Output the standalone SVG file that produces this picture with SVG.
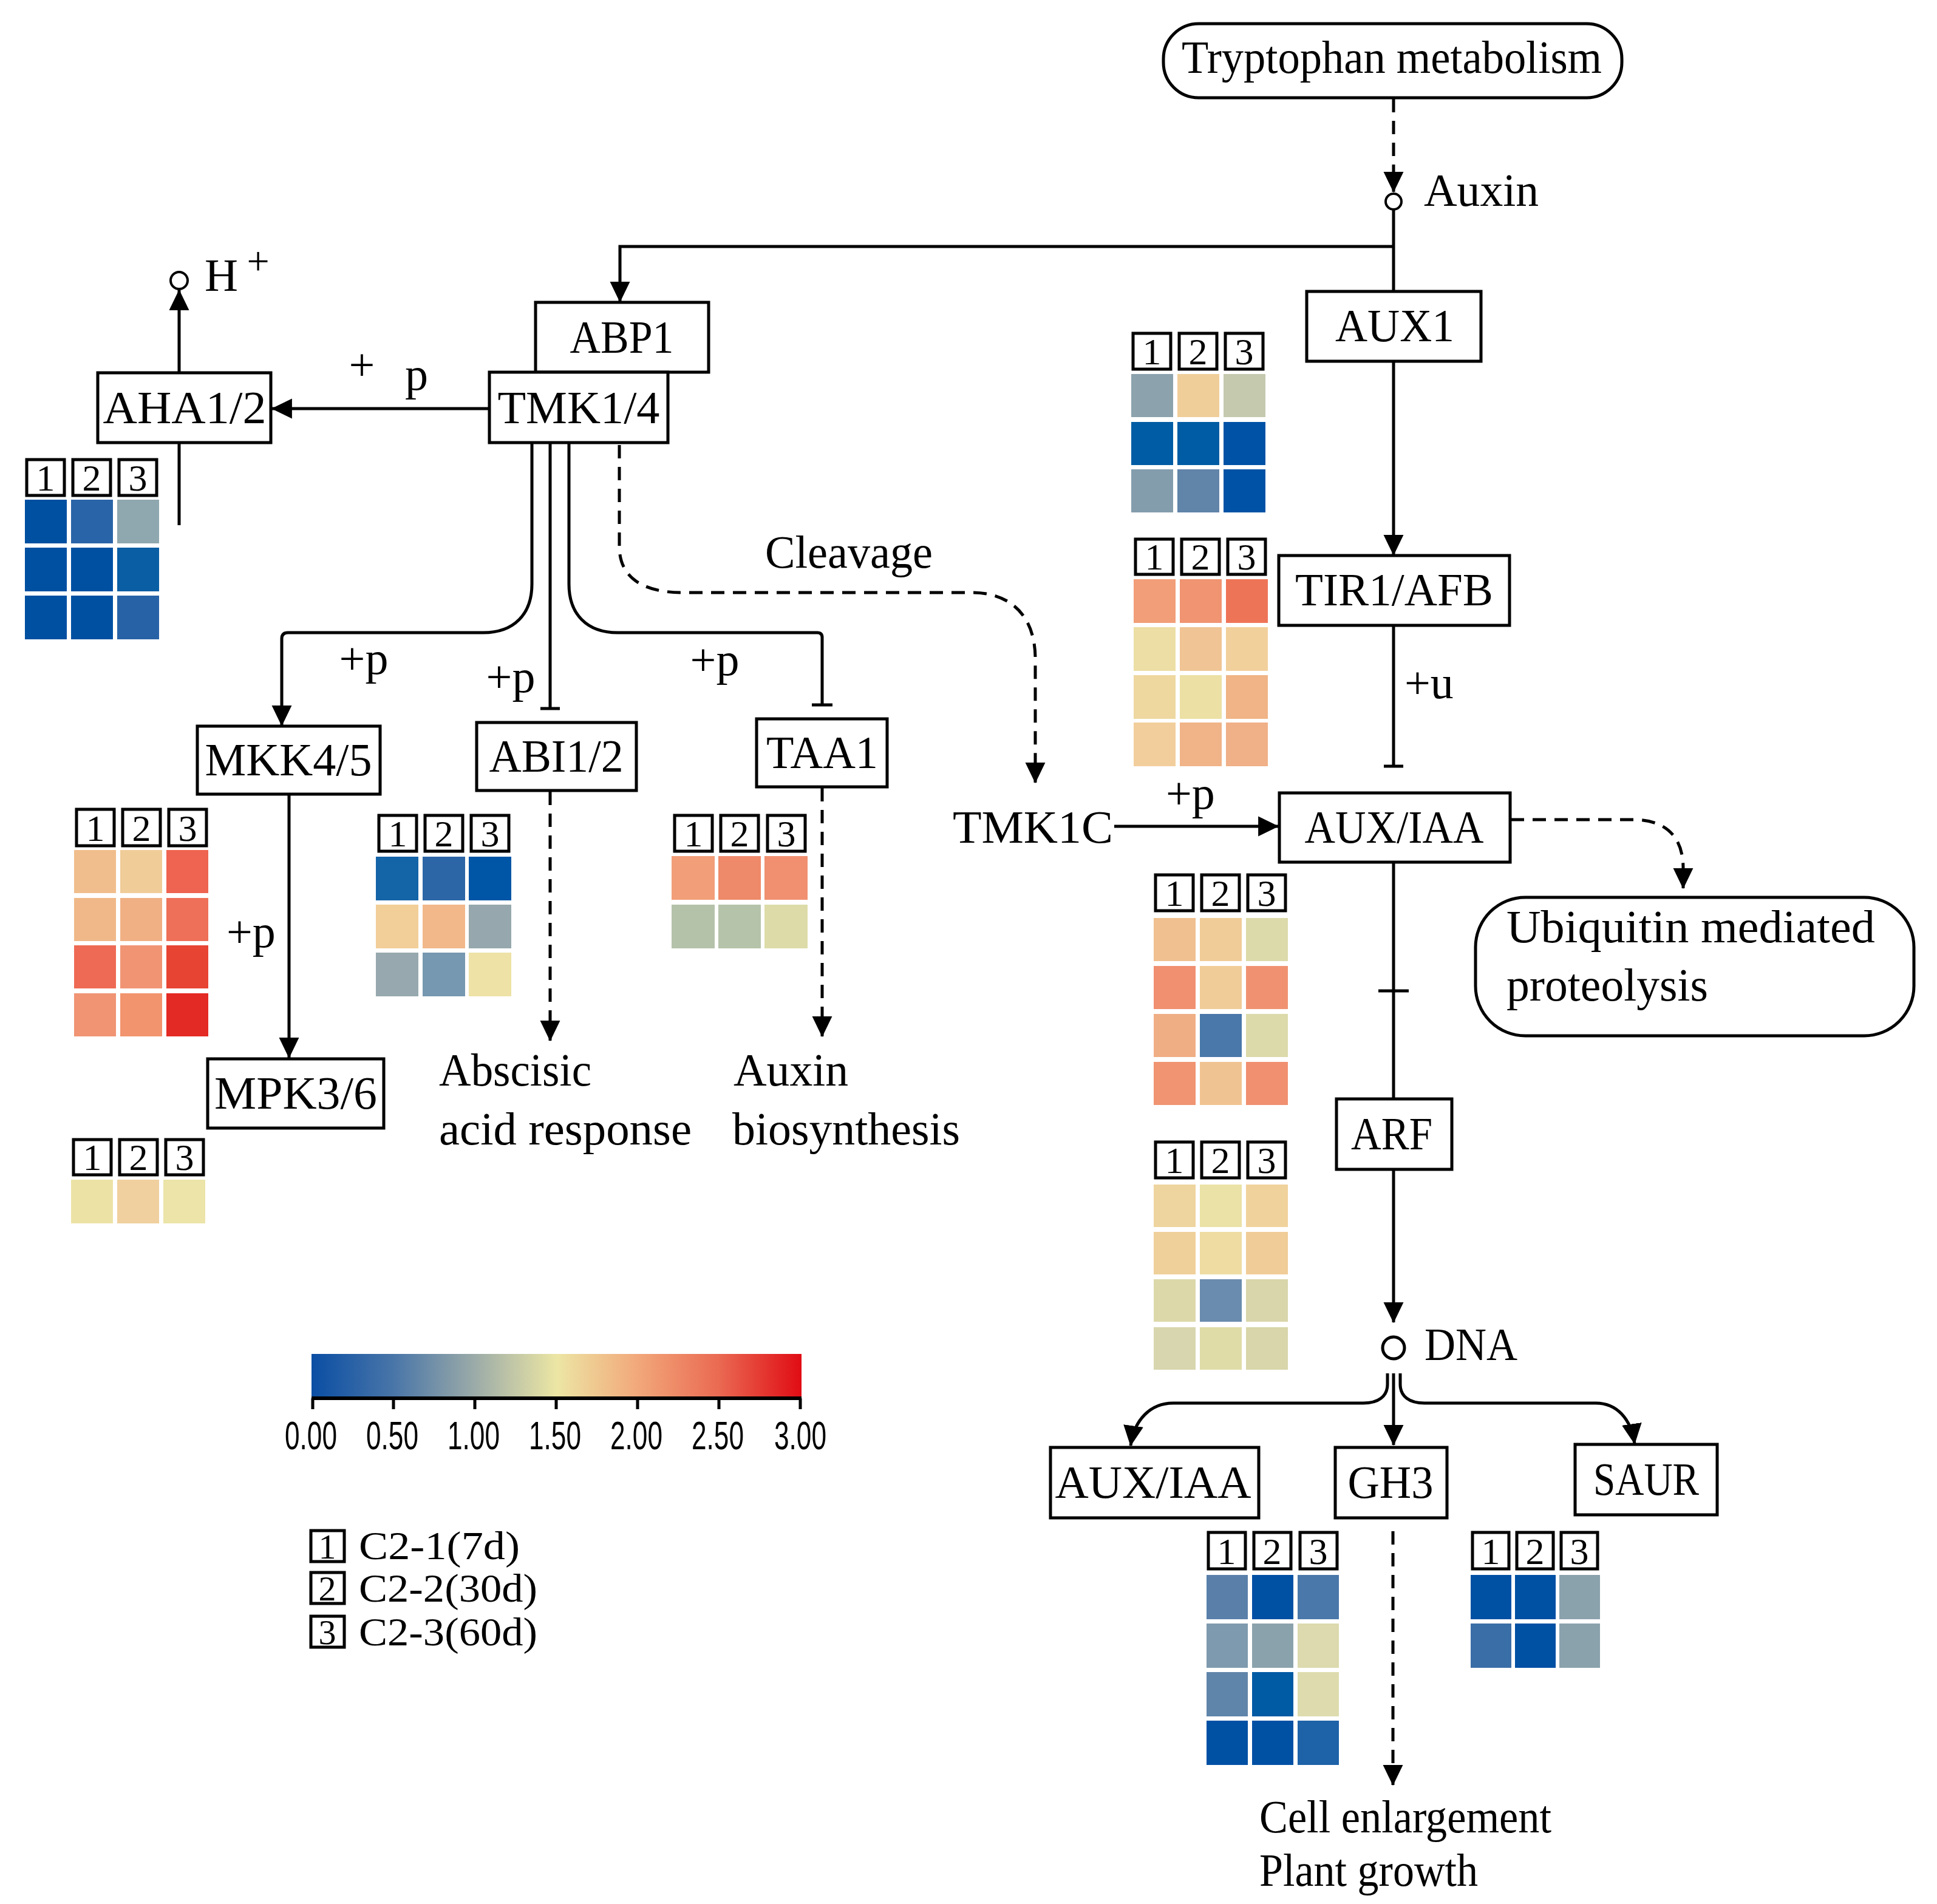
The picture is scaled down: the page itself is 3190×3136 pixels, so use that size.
<svg xmlns="http://www.w3.org/2000/svg" width="3190" height="3136" viewBox="0 0 3190 3136">
<defs>
<style>
.box{fill:#fff;stroke:#000;stroke-width:5}
.lbl{font-family:"Liberation Serif",serif;font-size:76px;fill:#000}
.c{text-anchor:middle}
.ln{fill:none;stroke:#000;stroke-width:5}
.dash{stroke-dasharray:22 14}
.hd{fill:#fff;stroke:#000;stroke-width:5}
.hdt{font-family:"Liberation Serif",serif;font-size:62px;text-anchor:middle;fill:#000}
.tick{font-family:"Liberation Sans Narrow","Liberation Sans",sans-serif;font-size:64px;text-anchor:middle;fill:#000}
</style>
<marker id="arr" markerUnits="userSpaceOnUse" markerWidth="34" markerHeight="34" viewBox="0 0 31 30" refX="30" refY="15" orient="auto">
<path d="M0,0 L31,15 L0,30 z" fill="#000"/>
</marker>
<linearGradient id="cbar" x1="0" y1="0" x2="1" y2="0">
<stop offset="0" stop-color="#0a4ea4"/>
<stop offset="0.17" stop-color="#4a76a8"/>
<stop offset="0.33" stop-color="#9aaaa8"/>
<stop offset="0.5" stop-color="#ece6a4"/>
<stop offset="0.66" stop-color="#f2aa7c"/>
<stop offset="0.83" stop-color="#ea6a52"/>
<stop offset="1" stop-color="#e00c14"/>
</linearGradient>
</defs>
<rect width="3190" height="3136" fill="#fff"/>

<!-- connectors -->
<g id="connectors">
<path class="ln dash" d="M2295,163 V316" marker-end="url(#arr)"/>
<path class="ln" d="M2295,345 V480"/>
<path class="ln" d="M2295,406 H1021 V497" marker-end="url(#arr)"/>
<path class="ln" d="M806,673 H448" marker-end="url(#arr)"/>
<path class="ln" d="M295,614 V478" marker-end="url(#arr)"/>
<path class="ln" d="M295,729 V865"/>
<path class="ln" d="M876,729 V962 C876,1012 846,1042 796,1042 H474 Q464,1042 464,1052 V1195" marker-end="url(#arr)"/>
<path class="ln" d="M906,729 V1167 M890,1167 H922"/>
<path class="ln" d="M937,729 V962 C937,1012 967,1042 1017,1042 H1346 Q1354,1042 1354,1050 V1161 M1337,1161 H1371"/>
<path class="ln dash" d="M1020,733 V900 C1020,952 1060,976 1124,976 H1600 C1670,976 1705,1020 1705,1085 V1289" marker-end="url(#arr)"/>
<path class="ln" d="M476,1309 V1742" marker-end="url(#arr)"/>
<path class="ln dash" d="M906,1304 V1714" marker-end="url(#arr)"/>
<path class="ln dash" d="M1354,1298 V1707" marker-end="url(#arr)"/>
<path class="ln" d="M2295,595 V914" marker-end="url(#arr)"/>
<path class="ln" d="M2295,1030 V1262 M2279,1262 H2311"/>
<path class="ln" d="M1835,1361 H2105" marker-end="url(#arr)"/>
<path class="ln" d="M2295,1421 V1810 M2270,1632 H2320"/>
<path class="ln dash" d="M2488,1350 H2690 C2745,1350 2772,1380 2772,1430 V1463" marker-end="url(#arr)"/>
<path class="ln" d="M2295,1926 V2178" marker-end="url(#arr)"/>
<path class="ln" d="M2285,2262 V2280 C2285,2300 2270,2311 2245,2311 H1932 C1895,2311 1868,2338 1862,2381" marker-end="url(#arr)"/>
<path class="ln" d="M2295,2262 V2380" marker-end="url(#arr)"/>
<path class="ln" d="M2306,2262 V2280 C2306,2300 2321,2311 2346,2311 H2628 C2662,2311 2686,2336 2692,2378" marker-end="url(#arr)"/>
<path class="ln dash" d="M2294,2522 V2940" marker-end="url(#arr)"/>
</g>

<!-- nodes -->
<g id="tryptophan">
<rect x="1916" y="39" width="755" height="122" rx="58" ry="58" class="box"/>
<text class="lbl" x="1946" y="120" textLength="692" lengthAdjust="spacingAndGlyphs">Tryptophan metabolism</text>
</g>
<g id="auxin">
<circle cx="2295" cy="332" r="13" fill="#fff" stroke="#000" stroke-width="4"/>
<text class="lbl" x="2345" y="339" textLength="189" lengthAdjust="spacingAndGlyphs">Auxin</text>
</g>
<g id="hplus">
<circle cx="295" cy="462" r="14" fill="#fff" stroke="#000" stroke-width="4"/>
<text class="lbl" x="337" y="479" textLength="55" lengthAdjust="spacingAndGlyphs">H</text>
<text class="lbl c" x="425" y="452" style="font-size:66px">+</text>
</g>
<g id="abp1">
<rect x="882" y="498" width="285" height="115" class="box"/>
<text class="lbl c" x="1024" y="581" textLength="171" lengthAdjust="spacingAndGlyphs">ABP1</text>
</g>
<g id="tmk14">
<rect x="806" y="613" width="294" height="116" class="box"/>
<text class="lbl c" x="953" y="697" textLength="267" lengthAdjust="spacingAndGlyphs">TMK1/4</text>
</g>
<g id="aha12">
<rect x="161" y="614" width="285" height="115" class="box"/>
<text class="lbl c" x="304" y="697" textLength="269" lengthAdjust="spacingAndGlyphs">AHA1/2</text>
</g>
<g id="labels-p">
<text class="lbl c" x="596" y="626">+</text>
<text class="lbl c" x="686" y="642">p</text>
<text class="lbl c" x="599" y="1110">+p</text>
<text class="lbl c" x="841" y="1140">+p</text>
<text class="lbl c" x="1177" y="1112">+p</text>
<text class="lbl" x="373" y="1560">+p</text>
<text class="lbl" x="1920" y="1332">+p</text>
<text class="lbl" x="2313" y="1150">+u</text>
<text class="lbl" x="1260" y="935" textLength="276" lengthAdjust="spacingAndGlyphs">Cleavage</text>
</g>
<g id="mkk45">
<rect x="325" y="1196" width="301" height="112" class="box"/>
<text class="lbl c" x="475" y="1277" textLength="275" lengthAdjust="spacingAndGlyphs">MKK4/5</text>
</g>
<g id="abi12">
<rect x="785" y="1190" width="263" height="112" class="box"/>
<text class="lbl c" x="916" y="1271" textLength="221" lengthAdjust="spacingAndGlyphs">ABI1/2</text>
</g>
<g id="taa1">
<rect x="1246" y="1184" width="215" height="112" class="box"/>
<text class="lbl c" x="1354" y="1265" textLength="184" lengthAdjust="spacingAndGlyphs">TAA1</text>
</g>
<g id="mpk36">
<rect x="342" y="1744" width="290" height="114" class="box"/>
<text class="lbl c" x="487" y="1826" textLength="268" lengthAdjust="spacingAndGlyphs">MPK3/6</text>
</g>
<g id="aba-response">
<text class="lbl" x="723" y="1788" textLength="251" lengthAdjust="spacingAndGlyphs">Abscisic</text>
<text class="lbl" x="723" y="1885" textLength="416" lengthAdjust="spacingAndGlyphs">acid response</text>
</g>
<g id="auxin-biosynthesis">
<text class="lbl" x="1208" y="1788" textLength="189" lengthAdjust="spacingAndGlyphs">Auxin</text>
<text class="lbl" x="1206" y="1885" textLength="375" lengthAdjust="spacingAndGlyphs">biosynthesis</text>
</g>
<g id="tmk1c">
<text class="lbl" x="1569" y="1388" textLength="264" lengthAdjust="spacingAndGlyphs">TMK1C</text>
</g>
<g id="aux1">
<rect x="2152" y="480" width="287" height="115" class="box"/>
<text class="lbl c" x="2297" y="562" textLength="196" lengthAdjust="spacingAndGlyphs">AUX1</text>
</g>
<g id="tir1afb">
<rect x="2106" y="915" width="380" height="115" class="box"/>
<text class="lbl c" x="2296" y="997" textLength="326" lengthAdjust="spacingAndGlyphs">TIR1/AFB</text>
</g>
<g id="auxiaa-mid">
<rect x="2107" y="1306" width="380" height="114" class="box"/>
<text class="lbl c" x="2296" y="1388" textLength="295" lengthAdjust="spacingAndGlyphs">AUX/IAA</text>
</g>
<g id="ubiquitin">
<rect x="2430" y="1478" width="722" height="228" rx="82" ry="82" class="box"/>
<text class="lbl" x="2481" y="1552" textLength="607" lengthAdjust="spacingAndGlyphs">Ubiquitin mediated</text>
<text class="lbl" x="2481" y="1648" textLength="332" lengthAdjust="spacingAndGlyphs">proteolysis</text>
</g>
<g id="arf">
<rect x="2201" y="1810" width="190" height="116" class="box"/>
<text class="lbl c" x="2292" y="1893" textLength="134" lengthAdjust="spacingAndGlyphs">ARF</text>
</g>
<g id="dna">
<circle cx="2295" cy="2220" r="18" fill="#fff" stroke="#000" stroke-width="5"/>
<text class="lbl" x="2346" y="2240" textLength="153" lengthAdjust="spacingAndGlyphs">DNA</text>
</g>
<g id="auxiaa-bottom">
<rect x="1730" y="2384" width="343" height="116" class="box"/>
<text class="lbl c" x="1899" y="2467" textLength="323" lengthAdjust="spacingAndGlyphs">AUX/IAA</text>
</g>
<g id="gh3">
<rect x="2199" y="2384" width="184" height="116" class="box"/>
<text class="lbl c" x="2290" y="2467" textLength="141" lengthAdjust="spacingAndGlyphs">GH3</text>
</g>
<g id="saur">
<rect x="2594" y="2379" width="234" height="116" class="box"/>
<text class="lbl c" x="2711" y="2462" textLength="174" lengthAdjust="spacingAndGlyphs">SAUR</text>
</g>
<g id="cell-growth">
<text class="lbl" x="2074" y="3018" textLength="481" lengthAdjust="spacingAndGlyphs">Cell enlargement</text>
<text class="lbl" x="2074" y="3106" textLength="360" lengthAdjust="spacingAndGlyphs">Plant growth</text>
</g>

<!-- heatmaps -->
<g id="hm-aha">
<rect class="hd" x="44" y="757" width="62" height="59"/><rect class="hd" x="120" y="757" width="62" height="59"/><rect class="hd" x="196" y="757" width="62" height="59"/>
<text class="hdt" x="75" y="808">1</text><text class="hdt" x="151" y="808">2</text><text class="hdt" x="227" y="808">3</text>
<rect x="41" y="823" width="69" height="72" fill="#0050A2"/><rect x="117" y="823" width="69" height="72" fill="#2A64A8"/><rect x="193" y="823" width="69" height="72" fill="#8FA7AF"/>
<rect x="41" y="902" width="69" height="72" fill="#0050A2"/><rect x="117" y="902" width="69" height="72" fill="#0050A2"/><rect x="193" y="902" width="69" height="72" fill="#0A5EA4"/>
<rect x="41" y="981" width="69" height="72" fill="#0050A2"/><rect x="117" y="981" width="69" height="72" fill="#0050A2"/><rect x="193" y="981" width="69" height="72" fill="#2862A6"/>
</g>
<g id="hm-aux1">
<rect class="hd" x="1866" y="549" width="62" height="59"/><rect class="hd" x="1942" y="549" width="62" height="59"/><rect class="hd" x="2018" y="549" width="62" height="59"/>
<text class="hdt" x="1897" y="600">1</text><text class="hdt" x="1973" y="600">2</text><text class="hdt" x="2049" y="600">3</text>
<rect x="1863" y="616" width="69" height="71" fill="#8CA3AD"/><rect x="1939" y="616" width="69" height="71" fill="#F0CE9A"/><rect x="2015" y="616" width="69" height="71" fill="#C5C9AE"/>
<rect x="1863" y="695" width="69" height="71" fill="#005CA4"/><rect x="1939" y="695" width="69" height="71" fill="#005CA4"/><rect x="2015" y="695" width="69" height="71" fill="#0052A6"/>
<rect x="1863" y="773" width="69" height="71" fill="#839DAD"/><rect x="1939" y="773" width="69" height="71" fill="#6184A9"/><rect x="2015" y="773" width="69" height="71" fill="#0052A6"/>
</g>
<g id="hm-tir1">
<rect class="hd" x="1870" y="888" width="62" height="58"/><rect class="hd" x="1946" y="888" width="62" height="58"/><rect class="hd" x="2022" y="888" width="62" height="58"/>
<text class="hdt" x="1901" y="938">1</text><text class="hdt" x="1977" y="938">2</text><text class="hdt" x="2053" y="938">3</text>
<rect x="1867" y="954" width="69" height="72" fill="#F29E78"/><rect x="1943" y="954" width="69" height="72" fill="#F09472"/><rect x="2019" y="954" width="69" height="72" fill="#EE7458"/>
<rect x="1867" y="1033" width="69" height="72" fill="#ECDEA4"/><rect x="1943" y="1033" width="69" height="72" fill="#F0C494"/><rect x="2019" y="1033" width="69" height="72" fill="#F2D09C"/>
<rect x="1867" y="1112" width="69" height="72" fill="#EED8A0"/><rect x="1943" y="1112" width="69" height="72" fill="#ECE0A4"/><rect x="2019" y="1112" width="69" height="72" fill="#F0B486"/>
<rect x="1867" y="1190" width="69" height="72" fill="#F2CE9C"/><rect x="1943" y="1190" width="69" height="72" fill="#F0B488"/><rect x="2019" y="1190" width="69" height="72" fill="#F0B088"/>
</g>
<g id="hm-mkk">
<rect class="hd" x="126" y="1333" width="62" height="60"/><rect class="hd" x="202" y="1333" width="62" height="60"/><rect class="hd" x="278" y="1333" width="62" height="60"/>
<text class="hdt" x="157" y="1385">1</text><text class="hdt" x="233" y="1385">2</text><text class="hdt" x="309" y="1385">3</text>
<rect x="122" y="1400" width="69" height="71" fill="#F0BE8C"/><rect x="198" y="1400" width="69" height="71" fill="#F0CC98"/><rect x="274" y="1400" width="69" height="71" fill="#EE6450"/>
<rect x="122" y="1479" width="69" height="71" fill="#F0B888"/><rect x="198" y="1479" width="69" height="71" fill="#F0B084"/><rect x="274" y="1479" width="69" height="71" fill="#EE7058"/>
<rect x="122" y="1557" width="69" height="71" fill="#EE6A54"/><rect x="198" y="1557" width="69" height="71" fill="#F09474"/><rect x="274" y="1557" width="69" height="71" fill="#E84434"/>
<rect x="122" y="1636" width="69" height="71" fill="#F09474"/><rect x="198" y="1636" width="69" height="71" fill="#F2946E"/><rect x="274" y="1636" width="69" height="71" fill="#E42A24"/>
</g>
<g id="hm-mpk">
<rect class="hd" x="121" y="1877" width="62" height="58"/><rect class="hd" x="197" y="1877" width="62" height="58"/><rect class="hd" x="273" y="1877" width="62" height="58"/>
<text class="hdt" x="152" y="1927">1</text><text class="hdt" x="228" y="1927">2</text><text class="hdt" x="304" y="1927">3</text>
<rect x="117" y="1943" width="69" height="72" fill="#ECE2A6"/><rect x="193" y="1943" width="69" height="72" fill="#F0D09E"/><rect x="269" y="1943" width="69" height="72" fill="#ECE4A8"/>
</g>
<g id="hm-abi">
<rect class="hd" x="624" y="1343" width="62" height="59"/><rect class="hd" x="700" y="1343" width="62" height="59"/><rect class="hd" x="776" y="1343" width="62" height="59"/>
<text class="hdt" x="655" y="1394">1</text><text class="hdt" x="731" y="1394">2</text><text class="hdt" x="807" y="1394">3</text>
<rect x="619" y="1411" width="70" height="72" fill="#1464A8"/><rect x="696" y="1411" width="70" height="72" fill="#2C66A6"/><rect x="772" y="1411" width="70" height="72" fill="#0056A6"/>
<rect x="619" y="1490" width="70" height="72" fill="#F2CE98"/><rect x="696" y="1490" width="70" height="72" fill="#F2B88A"/><rect x="772" y="1490" width="70" height="72" fill="#96A8AE"/>
<rect x="619" y="1569" width="70" height="72" fill="#97A9AE"/><rect x="696" y="1569" width="70" height="72" fill="#7698B0"/><rect x="772" y="1569" width="70" height="72" fill="#EEE2A6"/>
</g>
<g id="hm-taa1">
<rect class="hd" x="1111" y="1343" width="62" height="59"/><rect class="hd" x="1187" y="1343" width="62" height="59"/><rect class="hd" x="1264" y="1343" width="62" height="59"/>
<text class="hdt" x="1142" y="1394">1</text><text class="hdt" x="1218" y="1394">2</text><text class="hdt" x="1295" y="1394">3</text>
<rect x="1106" y="1410" width="71" height="72" fill="#F29E78"/><rect x="1183" y="1410" width="70" height="72" fill="#EE8A6A"/><rect x="1259" y="1410" width="71" height="72" fill="#F09070"/>
<rect x="1106" y="1490" width="71" height="72" fill="#B5C2AA"/><rect x="1183" y="1490" width="70" height="72" fill="#B5C3AA"/><rect x="1259" y="1490" width="71" height="72" fill="#DDDCA8"/>
</g>
<g id="hm-auxiaa-mid">
<rect class="hd" x="1903" y="1441" width="62" height="59"/><rect class="hd" x="1979" y="1441" width="62" height="59"/><rect class="hd" x="2055" y="1441" width="62" height="59"/>
<text class="hdt" x="1934" y="1492">1</text><text class="hdt" x="2010" y="1492">2</text><text class="hdt" x="2086" y="1492">3</text>
<rect x="1900" y="1512" width="69" height="71" fill="#F0C090"/><rect x="1976" y="1512" width="69" height="71" fill="#F0CC98"/><rect x="2052" y="1512" width="69" height="71" fill="#DCDAAA"/>
<rect x="1900" y="1591" width="69" height="71" fill="#F09070"/><rect x="1976" y="1591" width="69" height="71" fill="#F0CC98"/><rect x="2052" y="1591" width="69" height="71" fill="#F09272"/>
<rect x="1900" y="1670" width="69" height="71" fill="#F0AE84"/><rect x="1976" y="1670" width="69" height="71" fill="#4A78AA"/><rect x="2052" y="1670" width="69" height="71" fill="#DCDAAA"/>
<rect x="1900" y="1749" width="69" height="71" fill="#F09472"/><rect x="1976" y="1749" width="69" height="71" fill="#F0C492"/><rect x="2052" y="1749" width="69" height="71" fill="#F09070"/>
</g>
<g id="hm-arf">
<rect class="hd" x="1903" y="1881" width="62" height="59"/><rect class="hd" x="1979" y="1881" width="62" height="59"/><rect class="hd" x="2055" y="1881" width="62" height="59"/>
<text class="hdt" x="1934" y="1932">1</text><text class="hdt" x="2010" y="1932">2</text><text class="hdt" x="2086" y="1932">3</text>
<rect x="1900" y="1951" width="69" height="70" fill="#EED49E"/><rect x="1976" y="1951" width="69" height="70" fill="#EAE2A6"/><rect x="2052" y="1951" width="69" height="70" fill="#F0D29C"/>
<rect x="1900" y="2029" width="69" height="70" fill="#F0D09A"/><rect x="1976" y="2029" width="69" height="70" fill="#EEDCA2"/><rect x="2052" y="2029" width="69" height="70" fill="#F0CC98"/>
<rect x="1900" y="2107" width="69" height="70" fill="#DCD8AA"/><rect x="1976" y="2107" width="69" height="70" fill="#6A8CAE"/><rect x="2052" y="2107" width="69" height="70" fill="#D8D6AA"/>
<rect x="1900" y="2186" width="69" height="70" fill="#D8D6AE"/><rect x="1976" y="2186" width="69" height="70" fill="#E0DCA8"/><rect x="2052" y="2186" width="69" height="70" fill="#D8D6AA"/>
</g>
<g id="hm-gh3">
<rect class="hd" x="1990" y="2524" width="61" height="60"/><rect class="hd" x="2065" y="2524" width="61" height="60"/><rect class="hd" x="2141" y="2524" width="61" height="60"/>
<text class="hdt" x="2020" y="2576">1</text><text class="hdt" x="2095" y="2576">2</text><text class="hdt" x="2171" y="2576">3</text>
<rect x="1987" y="2594" width="68" height="73" fill="#5A80AA"/><rect x="2062" y="2594" width="68" height="73" fill="#0050A4"/><rect x="2137" y="2594" width="68" height="73" fill="#4A78AA"/>
<rect x="1987" y="2674" width="68" height="73" fill="#7E9AAE"/><rect x="2062" y="2674" width="68" height="73" fill="#8AA2AC"/><rect x="2137" y="2674" width="68" height="73" fill="#DCDAAE"/>
<rect x="1987" y="2754" width="68" height="73" fill="#6085AA"/><rect x="2062" y="2754" width="68" height="73" fill="#005AA4"/><rect x="2137" y="2754" width="68" height="73" fill="#DEDCAE"/>
<rect x="1987" y="2834" width="68" height="73" fill="#0050A4"/><rect x="2062" y="2834" width="68" height="73" fill="#0050A4"/><rect x="2137" y="2834" width="68" height="73" fill="#1E62A8"/>
</g>
<g id="hm-saur">
<rect class="hd" x="2425" y="2524" width="60" height="60"/><rect class="hd" x="2498" y="2524" width="60" height="60"/><rect class="hd" x="2571" y="2524" width="60" height="60"/>
<text class="hdt" x="2455" y="2576">1</text><text class="hdt" x="2528" y="2576">2</text><text class="hdt" x="2601" y="2576">3</text>
<rect x="2422" y="2594" width="67" height="73" fill="#0050A4"/><rect x="2495" y="2594" width="67" height="73" fill="#0050A4"/><rect x="2568" y="2594" width="67" height="73" fill="#8AA2AC"/>
<rect x="2422" y="2674" width="67" height="73" fill="#3A6EA6"/><rect x="2495" y="2674" width="67" height="73" fill="#0050A4"/><rect x="2568" y="2674" width="67" height="73" fill="#8AA2AC"/>
</g>

<!-- legend -->
<g id="colorbar">
<rect x="513" y="2230" width="807" height="73" fill="url(#cbar)"/>
<path class="ln" style="stroke-width:6" d="M513,2303 H1320"/>
<path class="ln" d="M515,2303 V2321 M648,2303 V2321 M782,2303 V2321 M916,2303 V2321 M1050,2303 V2321 M1184,2303 V2321 M1318,2303 V2321"/>
<text class="tick" x="512" y="2387" textLength="86" lengthAdjust="spacingAndGlyphs">0.00</text>
<text class="tick" x="646" y="2387" textLength="86" lengthAdjust="spacingAndGlyphs">0.50</text>
<text class="tick" x="780" y="2387" textLength="86" lengthAdjust="spacingAndGlyphs">1.00</text>
<text class="tick" x="914" y="2387" textLength="86" lengthAdjust="spacingAndGlyphs">1.50</text>
<text class="tick" x="1048" y="2387" textLength="86" lengthAdjust="spacingAndGlyphs">2.00</text>
<text class="tick" x="1182" y="2387" textLength="86" lengthAdjust="spacingAndGlyphs">2.50</text>
<text class="tick" x="1318" y="2387" textLength="86" lengthAdjust="spacingAndGlyphs">3.00</text>
</g>
<g id="legend-samples">
<rect class="hd" x="512" y="2521" width="55" height="51"/>
<rect class="hd" x="512" y="2590" width="55" height="51"/>
<rect class="hd" x="512" y="2662" width="55" height="51"/>
<text class="hdt" x="539" y="2567" style="font-size:58px">1</text>
<text class="hdt" x="539" y="2636" style="font-size:58px">2</text>
<text class="hdt" x="539" y="2708" style="font-size:58px">3</text>
<text class="lbl" x="591" y="2568" style="font-size:66px" textLength="265" lengthAdjust="spacingAndGlyphs">C2-1(7d)</text>
<text class="lbl" x="591" y="2638" style="font-size:66px" textLength="294" lengthAdjust="spacingAndGlyphs">C2-2(30d)</text>
<text class="lbl" x="591" y="2710" style="font-size:66px" textLength="294" lengthAdjust="spacingAndGlyphs">C2-3(60d)</text>
</g>
</svg>
